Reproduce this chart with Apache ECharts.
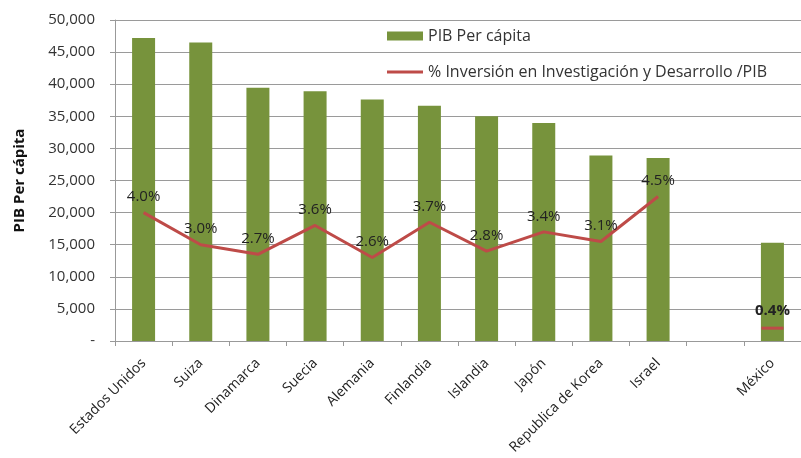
<!DOCTYPE html>
<html>
<head>
<meta charset="utf-8">
<script src="https://cdn.jsdelivr.net/npm/echarts@6/dist/echarts.min.js"></script>
<style>
  html, body { margin: 0; padding: 0; background: #ffffff; }
  #chart { width: 801px; height: 458px; }
</style>
</head>
<body>
<div id="chart"></div>
<script>
// Countries (an empty slot separates Israel from México)
const paises = ['Estados Unidos', 'Suiza', 'Dinamarca', 'Suecia', 'Alemania', 'Finlandia',
  'Islandia', 'Japón', 'Republica de Korea', 'Israel', '', 'México'];

// GDP per capita
const pibPerCapita = [47200, 46500, 39450, 38900, 37600, 36650, 35000, 33950, 28900, 28500, null, 15300];

// R&D investment as % of GDP
const inversionID = [4.0, 3.0, 2.7, 3.6, 2.6, 3.7, 2.8, 3.4, 3.1, 4.5, null, 0.4];

const yTicks = { min: 0, max: 50000, interval: 5000 };
const FONT = '"Open Sans", Lato, sans-serif';
const RED = '#be4b48';

// Points carry tiny invisible symbols (so their labels show); México stands
// alone and is drawn as a short dash
const lineData = inversionID.map((v, i) =>
  (i === paises.length - 1)
    ? { value: v, symbol: 'rect', symbolSize: [22, 3], label: { fontWeight: 'bold' } }
    : { value: v, symbol: 'circle', symbolSize: 0.1 });

const chart = echarts.init(document.getElementById('chart'));
chart.setOption({
  animation: false,
  textStyle: { fontFamily: FONT },
  grid: { left: 115, right: -11, top: 20, bottom: 117 },
  legend: {
    orient: 'vertical',
    left: 382, top: 23,
    itemGap: 20,
    itemWidth: 36, itemHeight: 9,
    symbolKeepAspect: true,
    textStyle: { fontSize: 16, color: '#333', fontFamily: FONT },
    data: [
      { name: 'PIB Per cápita', icon: 'rect' },
      { name: '% Inversión en Investigación y Desarrollo /PIB',
        icon: 'path://M0,0L36,0L36,3L0,3Z', itemStyle: { color: RED } }
    ]
  },
  xAxis: {
    type: 'category',
    data: paises,
    boundaryGap: true,
    axisLine: { lineStyle: { color: '#999', width: 1 } },
    axisTick: { show: true, length: 5, lineStyle: { color: '#999' } },
    axisLabel: {
      interval: 0, rotate: 45, fontSize: 14, color: '#222', fontFamily: FONT, margin: 20
    }
  },
  yAxis: [{
    type: 'value',
    min: yTicks.min, max: yTicks.max, interval: yTicks.interval,
    name: 'PIB Per cápita',
    nameLocation: 'middle',
    nameGap: 88,
    nameRotate: 90,
    nameTextStyle: { fontSize: 15, fontWeight: 'bold', color: '#111', fontFamily: FONT },
    axisLine: { show: true, lineStyle: { color: '#999' } },
    axisTick: { show: true, length: 5, lineStyle: { color: '#999' } },
    axisLabel: {
      fontSize: 15, color: '#333', fontFamily: FONT, margin: 20,
      formatter: v => v === 0 ? '-' : v.toLocaleString('en-US')
    },
    splitLine: { lineStyle: { color: '#9a9a9a', width: 1 } }
  }, {
    type: 'value', min: 0, max: 10, show: false,
    splitLine: { show: false }
  }],
  series: [{
    name: 'PIB Per cápita',
    type: 'bar',
    data: pibPerCapita,
    barWidth: 23,
    itemStyle: { color: '#77933c' }
  }, {
    name: '% Inversión en Investigación y Desarrollo /PIB',
    type: 'line',
    yAxisIndex: 1,
    data: lineData,
    symbol: 'none',
    showSymbol: true,
    connectNulls: false,
    lineStyle: { color: RED, width: 3 },
    itemStyle: { color: RED },
    label: {
      show: true, position: 'top', distance: 8,
      fontSize: 15, color: '#222', fontFamily: FONT,
      formatter: p => p.value.toFixed(1) + '%'
    }
  }]
});
</script>
</body>
</html>
